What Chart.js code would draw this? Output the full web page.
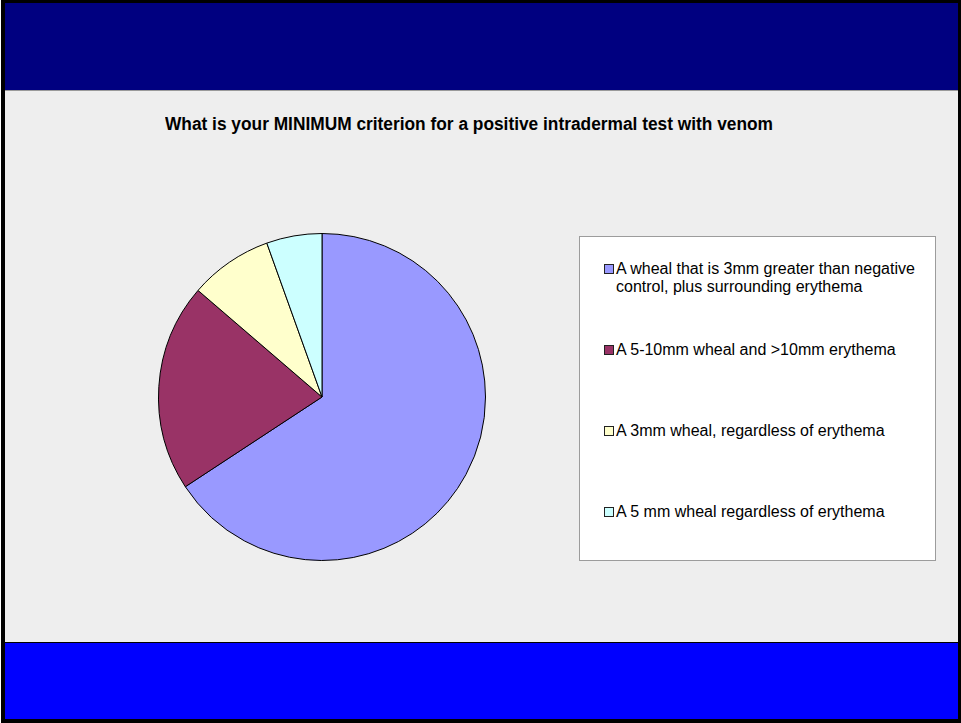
<!DOCTYPE html>
<html>
<head>
<meta charset="utf-8">
<script src="https://cdn.jsdelivr.net/npm/chart.js@4/dist/chart.umd.min.js"></script>
<style>
  html, body { margin: 0; padding: 0; background: #ffffff; }
  #slide { position: absolute; left: 1px; top: 0; width: 960px; height: 723px; background: #000; overflow: hidden; }
  #topBand { position: absolute; left: 4px; top: 3px; width: 953px; height: 87px; background: #000080; }
  #panel { position: absolute; left: 4px; top: 90px; width: 953px; height: 552px; background: #eeeeee;
           border-top: 1px solid #9a9a9a; box-sizing: border-box; }
  #bottomBand { position: absolute; left: 4px; top: 643px; width: 953px; height: 76px; background: #0000ff; }
  #title { position: absolute; left: 164px; top: 115px; white-space: nowrap; transform-origin: 0 0;
           font: bold 18px "Liberation Sans", Arial, sans-serif; line-height: 18px; color: #000; }
  #pieWrap { position: absolute; left: 157px; top: 233px; width: 328px; height: 328px; }
  #legend { position: absolute; left: 578px; top: 236px; width: 357px; height: 325px; background: #fff;
            border: 1px solid #9c9c9c; box-sizing: border-box; }
  .item { position: absolute; left: 24px; white-space: pre-line;
          font: 16px "Liberation Sans", Arial, sans-serif; line-height: 17.5px; color: #000; }
  .swatch { position: absolute; left: 0; top: 4px; width: 8px; height: 8px; border: 1px solid #222; }
  .text { position: absolute; left: 12px; top: 0; white-space: pre; }
</style>
</head>
<body>
<div id="slide">
  <div id="topBand"></div>
  <div id="panel"></div>
  <div id="bottomBand"></div>
  <div id="title">What is your MINIMUM criterion for a positive intradermal test with venom</div>
  <div id="pieWrap"><canvas id="pie" width="328" height="328"></canvas></div>
  <div id="legend"></div>
</div>
<script>
// survey answers (respondent counts)
const answers = [
  'A wheal that is 3mm greater than negative\ncontrol, plus surrounding erythema',
  'A 5-10mm wheal and >10mm erythema',
  'A 3mm wheal, regardless of erythema',
  'A 5 mm wheal regardless of erythema'
];
const counts = [48, 15, 6, 4];
const sliceColors = ['#9999ff', '#993366', '#ffffcc', '#ccffff'];

// squeeze the heading into its column width
const title = document.getElementById('title');
const titleWidth = title.getBoundingClientRect().width;
title.style.transform = 'scaleX(' + (608 / titleWidth) + ')';

// legend box
const legend = document.getElementById('legend');
answers.forEach((label, i) => {
  const row = document.createElement('div');
  row.className = 'item';
  row.style.top = (23 + i * 81) + 'px';
  const sw = document.createElement('span');
  sw.className = 'swatch';
  sw.style.background = sliceColors[i];
  const txt = document.createElement('span');
  txt.className = 'text';
  txt.textContent = label;
  row.appendChild(sw);
  row.appendChild(txt);
  legend.appendChild(row);
});

new Chart(document.getElementById('pie'), {
  type: 'pie',
  data: {
    labels: answers,
    datasets: [{
      data: counts,
      backgroundColor: sliceColors,
      borderColor: '#000000',
      borderWidth: 1
    }]
  },
  options: {
    responsive: false,
    animation: false,
    layout: { padding: 0 },
    plugins: {
      legend: { display: false },
      tooltip: { enabled: false }
    }
  }
});
</script>
</body>
</html>
